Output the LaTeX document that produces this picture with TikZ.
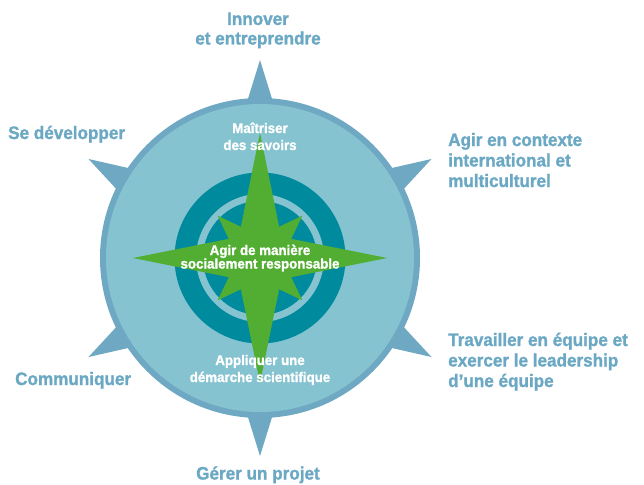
\documentclass[tikz,border=0pt]{standalone}
\usepackage{fontspec}
\usetikzlibrary{calc}
\setmainfont{Liberation Sans}[FakeStretch=0.95, BoldFeatures={FakeBold=1.3}]
\definecolor{lblblue}{HTML}{6BA8C4}
\definecolor{ringblue}{HTML}{6FA8C2}
\definecolor{discfill}{HTML}{84C3CF}
\definecolor{tealc}{HTML}{008A9E}
\definecolor{starg}{HTML}{52AE32}
\tikzset{
  outerlbl/.style={font=\bfseries\fontsize{18}{20}\selectfont, text=lblblue, inner sep=0pt},
  innerlbl/.style={font=\bfseries\fontsize{14}{16}\selectfont, text=white, inner sep=0pt},
  spike/.style={fill=ringblue, draw=none}
}
\begin{document}
\begin{tikzpicture}[x=1pt,y=-1pt]
\useasboundingbox (0,0) rectangle (644,484);
\coordinate (c) at (260,258);
% spikes
\foreach \a in {90,30,-30,-90,-150,150}{
  \fill[spike] ($(c)+(\a+5:155)$) -- ($(c)+(\a:198)$) -- ($(c)+(\a-5:155)$) -- cycle;
}
% outer disc
\fill[ringblue] (c) circle (160);
\fill[discfill] (c) circle (154);
% inner rings
\fill[tealc] (c) circle (85.5);
\fill[discfill] (c) circle (64);
\fill[tealc] (c) circle (57);
% star: small diagonal star
\fill[starg] ($(c)+(45:60)$) -- ($(c)+(90:22)$) -- ($(c)+(135:60)$) -- ($(c)+(180:22)$)
  -- ($(c)+(225:60)$) -- ($(c)+(270:22)$) -- ($(c)+(315:60)$) -- ($(c)+(0:22)$) -- cycle;
% big star
\fill[starg] ($(c)+(0:127)$) -- ($(c)+(45:30)$) -- ($(c)+(90:125)$) -- ($(c)+(135:30)$)
  -- ($(c)+(180:127)$) -- ($(c)+(225:30)$) -- ($(c)+(270:125)$) -- ($(c)+(315:30)$) -- cycle;
% outer labels
\node[outerlbl, anchor=base] (inn1) at (258,25) {Innover};
\node[outerlbl, anchor=base] (inn2) at (258,44.5) {et entreprendre};
\node[outerlbl, anchor=base west] (dev) at (8,139) {Se développer};
\node[outerlbl, anchor=base west] (agir1) at (448,146) {Agir en contexte};
\node[outerlbl, anchor=base west] (agir2) at (448,166.5) {international et};
\node[outerlbl, anchor=base west] (agir3) at (448,187) {multiculturel};
\node[outerlbl, anchor=base west] (trav1) at (448,346) {Travailler en équipe et};
\node[outerlbl, anchor=base west] (trav2) at (448,366.5) {exercer le leadership};
\node[outerlbl, anchor=base west] (trav3) at (448,387) {d’une équipe};
\node[outerlbl, anchor=base west] (comm) at (15,385) {Communiquer};
\node[outerlbl, anchor=base] (gerer) at (258,479.5) {Gérer un projet};
% inner labels
\node[innerlbl, anchor=base] (mai1) at (260,133) {Maîtriser};
\node[innerlbl, anchor=base] (mai2) at (260,150) {des savoirs};
\node[innerlbl, anchor=base] (soc1) at (260,255) {Agir de manière};
\node[innerlbl, anchor=base] (soc2) at (260,268.5) {socialement responsable};
\node[innerlbl, anchor=base] (app1) at (260,365) {Appliquer une};
\node[innerlbl, anchor=base] (app2) at (260,382) {démarche scientifique};
\end{tikzpicture}
\end{document}
